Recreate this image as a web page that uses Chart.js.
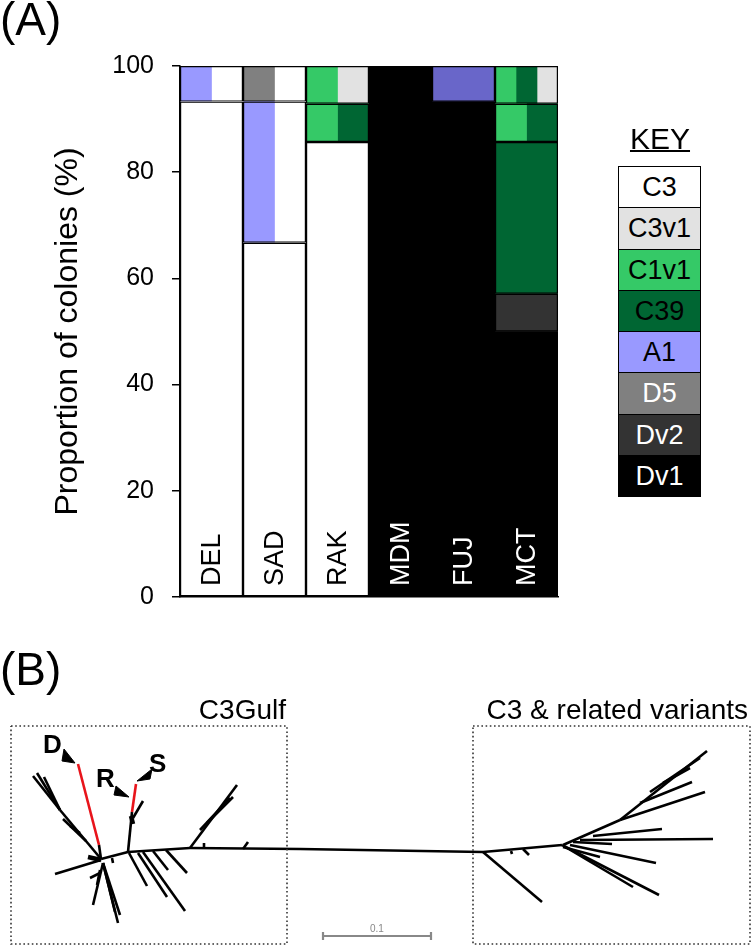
<!DOCTYPE html>
<html><head><meta charset="utf-8">
<script src="https://cdn.jsdelivr.net/npm/chart.js@4.4.0/dist/chart.umd.min.js"></script>
<style>
html,body{margin:0;padding:0;background:#fff;}
body{width:752px;height:946px;position:relative;overflow:hidden;font-family:"Liberation Sans",Arial,sans-serif;color:#000;}
.abs{position:absolute;white-space:nowrap;}
#cA{position:absolute;left:0;top:0;}
#cB{position:absolute;left:0;top:640px;}
#key{left:618px;top:166px;width:83px;border:1px solid #000;box-sizing:border-box;}
#key div{height:40.3px;line-height:40px;text-align:center;font-size:27px;border-top:1px solid #000;}
#key div:first-child{border-top:none;}
</style></head><body>
<canvas id="cA" width="752" height="640"></canvas>
<canvas id="cB" width="752" height="306"></canvas>
<div class="abs" style="left:0;top:-4px;font-size:46px;line-height:46px;">(A)</div>
<div class="abs" style="left:0;top:646px;font-size:46px;line-height:46px;">(B)</div>
<div class="abs" style="left:620px;top:124px;width:80px;text-align:center;font-size:30px;line-height:30px;text-decoration:underline;text-decoration-thickness:1.5px;">KEY</div>
<div id="key" class="abs"></div>
<div class="abs" style="right:466px;top:696px;font-size:28px;line-height:28px;">C3Gulf</div>
<div class="abs" style="right:4px;top:696px;font-size:28px;line-height:28px;">C3 &amp; related variants</div>
<div class="abs" style="left:43px;top:731px;font-size:26px;line-height:26px;font-weight:bold;">D</div>
<div class="abs" style="left:96px;top:765px;font-size:26px;line-height:26px;font-weight:bold;">R</div>
<div class="abs" style="left:149px;top:750px;font-size:26px;line-height:26px;font-weight:bold;">S</div>
<div class="abs" style="left:370px;top:924px;font-size:10px;line-height:10px;color:#888;">0.1</div>
<script>
// ---------- Panel A data ----------
const sites = ['DEL', 'SAD', 'RAK', 'MDM', 'FUJ', 'MCT'];
const siteLabelColors = ['#000000', '#000000', '#000000', '#ffffff', '#ffffff', '#ffffff'];
const keyTypes = ['C3', 'C3v1', 'C1v1', 'C39', 'A1', 'D5', 'Dv2', 'Dv1'];
const keyColors = ['#ffffff', '#e2e2e2', '#35c967', '#006633', '#9999ff', '#808080', '#333333', '#000000'];
const keyTextColors = ['#000000', '#000000', '#000000', '#000000', '#000000', '#ffffff', '#ffffff', '#ffffff'];
const extraTypes = ['A1 (FUJ)'];
const extraColors = ['#6966c9'];
const yTicks = [0, 20, 40, 60, 80, 100];
const yTitle = 'Proportion of colonies (%)';
// colony rows per site: [lower %, upper %, types within the row (left to right)]
const rowsDEL = [[0, 93.3, ['C3']], [93.3, 100, ['A1', 'C3']]];
const rowsSAD = [[0, 66.7, ['C3']], [66.7, 93.3, ['A1', 'C3']], [93.3, 100, ['D5', 'C3']]];
const rowsRAK = [[0, 85.7, ['C3']], [85.7, 92.9, ['C1v1', 'C39']], [92.9, 100, ['C1v1', 'C3v1']]];
const rowsMDM = [[0, 100, ['Dv1']]];
const rowsFUJ = [[0, 93.3, ['Dv1']], [93.3, 100, ['A1 (FUJ)']]];
const rowsMCT = [[0, 50, ['Dv1']], [50, 57.1, ['Dv2']], [57.1, 85.7, ['C39']], [85.7, 92.9, ['C1v1', 'C39']], [92.9, 100, ['C1v1', 'C39', 'C3v1']]];

// ---------- Panel B data (tree layout units) ----------
// segments: [x1, y1, x2, y2]
const treeBlack = [
  [101,219,128,212],[128,212,190,208],[190,208,300,209],[300,209,483,212],[483,212,562,205],
  [99,205,101,219],
  [101,219,60,170],[60,170,33,136],[60,170,37,133],[60,170,44,137],[86,201,63,179],[80,193,70,186],
  [101,220,55,234],
  [103,223,93,265],[103,223,118,283],[103,223,120,275],[103,223,115,272],[100,233,90,238],[100,230,97,245],[112,218,113,223],
  [128,212,132,172],[133,178,143,161],
  [129,213,147,246],[138,213,167,257],[143,212,185,271],[153,211,168,230],[166,210,187,233],
  [190,208,237,145],[200,190,230,158],[207,183,233,157],[203,207,204,203],[243,209,248,202],
  [483,212,542,262],[511,211,512,214],[523,209,529,215],
  [562,205,659,255],[567,208,633,247],[563,207,600,217],[570,205,656,223],
  [580,200,713,199],[593,196,662,189],[573,202,612,204],
  [563,205,620,180],[620,180,707,111],[620,180,705,152],[640,163,692,142],[650,152,700,118],[663,143,690,128]
];
const treeThick = [[88,217,101,220],[131,176,133,184]];
const treeRed = [[78,124,99,205],[132,172,136,144]];
const scaleBar = [[323,296,431,296],[323,292,323,300],[431,292,431,300]];
const boxC3Gulf = [11, 86, 287, 304];
const boxC3 = [473, 86, 750, 304];
// arrowheads (triangle vertices) pointing at D, R and S branches
const arrowD = [[64,109], [62,121], [75,123]];
const arrowR = [[116,146], [114,155], [129,157]];
const arrowS = [[152,129], [150,139], [137,141]];

// ---------- build panel A ----------
const allRows = [rowsDEL, rowsSAD, rowsRAK, rowsMDM, rowsFUJ, rowsMCT];
function colorOf(t) {
  const i = keyTypes.indexOf(t);
  if (i >= 0) return keyColors[i];
  return extraColors[extraTypes.indexOf(t)];
}
const axisFor = n => (n === 1 ? 'x' : (n === 2 ? 'x2' : 'x3'));
const datasets = [];
allRows.forEach((rows, si) => rows.forEach(([lo, hi, parts]) => {
  const n = parts.length;
  parts.forEach((t, k) => {
    const data = new Array(sites.length * n).fill(null);
    data[si * n + k] = [lo, hi];
    datasets.push({type: 'bar', label: t, xAxisID: axisFor(n), yAxisID: 'y', data,
      backgroundColor: colorOf(t), borderWidth: 0, grouped: false,
      barPercentage: 1, categoryPercentage: 1, order: 2});
  });
  const d = new Array(sites.length).fill(null);
  d[si] = [lo, hi];
  datasets.push({type: 'bar', label: 'outline', xAxisID: 'x', yAxisID: 'y', data: d,
    backgroundColor: 'rgba(0,0,0,0)', borderColor: '#000', borderWidth: 1.2, borderSkipped: false,
    grouped: false, barPercentage: 1, categoryPercentage: 1, order: 1, inflateAmount: 0});
}));

const FONT = '"Liberation Sans", Arial, sans-serif';
const insideLabels = {
  id: 'insideLabels',
  afterDatasetsDraw(chart) {
    const {ctx, scales: {x, y}} = chart;
    ctx.save();
    ctx.font = '27px ' + FONT;
    ctx.textAlign = 'left';
    ctx.textBaseline = 'middle';
    sites.forEach((s, i) => {
      ctx.save();
      ctx.translate(x.getPixelForValue(i) + 1, y.getPixelForValue(0) - 11);
      ctx.rotate(-Math.PI / 2);
      ctx.fillStyle = siteLabelColors[i];
      ctx.fillText(s, 0, 0);
      ctx.restore();
    });
    ctx.restore();
  }
};

new Chart(document.getElementById('cA'), {
  type: 'bar',
  data: {labels: sites, datasets},
  options: {
    responsive: false, animation: false,
    layout: {padding: {top: 66, right: 194, bottom: 43, left: 0}},
    plugins: {legend: {display: false}, tooltip: {enabled: false}},
    scales: {
      x: {type: 'category', labels: sites, offset: true,
        grid: {display: false}, ticks: {display: false},
        border: {display: true, color: '#000', width: 1.5, z: 1},
        afterFit(s) { s.height = 0; }},
      x2: {type: 'category', labels: sites.flatMap(s => [s + '-1', s + '-2']), offset: true, display: false},
      x3: {type: 'category', labels: sites.flatMap(s => [s + '-1', s + '-2', s + '-3']), offset: true, display: false},
      y: {type: 'linear', min: 0, max: 100,
        afterBuildTicks(s) { s.ticks = yTicks.map(v => ({value: v})); },
        ticks: {color: '#000', font: {size: 25, family: FONT}, padding: 18},
        grid: {display: true, drawOnChartArea: false, drawTicks: true, tickLength: 8, color: '#000', lineWidth: 1.5},
        border: {display: true, color: '#000', width: 1.5, z: 1},
        title: {display: true, text: yTitle, color: '#000', font: {size: 32, family: FONT}, padding: {top: 49, bottom: 0}},
        afterFit(s) { s.width = 180; }}
    }
  },
  plugins: [insideLabels]
});

// key
const keyEl = document.getElementById('key');
keyTypes.forEach((t, i) => {
  const c = document.createElement('div');
  c.textContent = t;
  c.style.background = keyColors[i];
  c.style.color = keyTextColors[i];
  keyEl.appendChild(c);
});

// ---------- build panel B ----------
const seg = (s, color, w) => ({data: [{x: s[0], y: s[1]}, {x: s[2], y: s[3]}], showLine: true,
  borderColor: color, borderWidth: w, pointRadius: 0, borderCapStyle: 'butt'});
const box = b => ({data: [{x: b[0], y: b[1]}, {x: b[2], y: b[1]}, {x: b[2], y: b[3]}, {x: b[0], y: b[3]}, {x: b[0], y: b[1]}],
  showLine: true, borderColor: '#333', borderWidth: 1.6, borderDash: [1.6, 2.6], pointRadius: 0});
const tri = v => ({data: v.concat([v[0]]).map(p => ({x: p[0], y: p[1]})), showLine: true,
  fill: 'shape', backgroundColor: '#000', borderColor: '#000', borderWidth: 1, pointRadius: 0, borderJoinStyle: 'miter'});
const tds = [box(boxC3Gulf), box(boxC3)];
treeBlack.forEach(s => tds.push(seg(s, '#000', 2.6)));
treeThick.forEach(s => tds.push(seg(s, '#000', 4.5)));
treeRed.forEach(s => tds.push(seg(s, '#e8141b', 2.6)));
scaleBar.forEach(s => tds.push(seg(s, '#888', 2.2)));
[arrowD, arrowR, arrowS].forEach(v => tds.push(tri(v)));

new Chart(document.getElementById('cB'), {
  type: 'scatter',
  data: {datasets: tds},
  options: {
    responsive: false, animation: false,
    layout: {padding: 0},
    plugins: {legend: {display: false}, tooltip: {enabled: false}},
    scales: {
      x: {type: 'linear', min: 0, max: 752, display: false},
      y: {type: 'linear', min: 0, max: 306, reverse: true, display: false}
    }
  }
});
</script>
</body></html>
